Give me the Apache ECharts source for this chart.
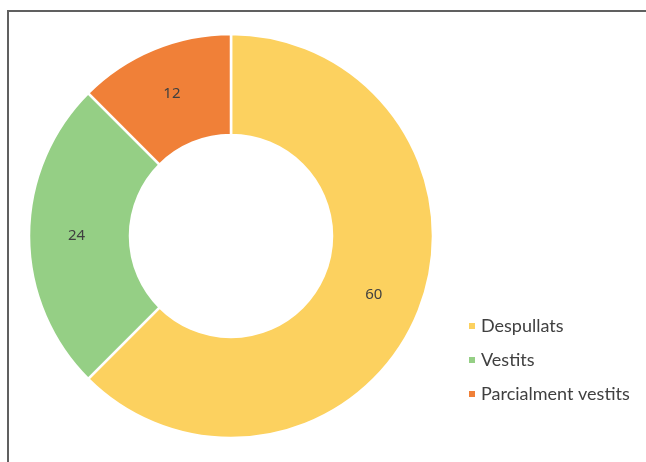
<!DOCTYPE html>
<html style="height: 100%">
<head>
<meta charset="utf-8">
<script src="https://cdn.jsdelivr.net/npm/echarts@6/dist/echarts.min.js"></script>
</head>
<body style="height: 100%; margin: 0; background: #fff">
<div id="container" style="width: 646px; height: 462px"></div>
<script type="text/javascript">
var categories = ['Despullats', 'Vestits', 'Parcialment vestits'];
var values = [60, 24, 12];
var colors = ['#FCD15F', '#95CF85', '#F08038'];

var chart = echarts.init(document.getElementById('container'));

var data = categories.map(function (name, i) {
    return { name: name, value: values[i], itemStyle: { color: colors[i] } };
});

var option = {
    backgroundColor: '#fff',
    animation: false,
    graphic: [{
        type: 'rect',
        shape: { x: 8, y: 11, width: 700, height: 500 },
        style: { fill: 'none', stroke: '#606060', lineWidth: 2 }
    }],
    legend: {
        orient: 'vertical',
        left: 462,
        top: 312,
        icon: 'rect',
        itemWidth: 8,
        itemHeight: 8,
        itemGap: 16,
        textStyle: { fontFamily: 'Lato', fontSize: 18, color: '#404040' },
        data: categories
    },
    series: [{
        type: 'pie',
        center: [231, 236],
        radius: [101, 202],
        startAngle: 90,
        clockwise: true,
        itemStyle: { borderColor: '#fff', borderWidth: 2.5 },
        label: {
            show: true,
            position: 'inside',
            formatter: '{c}',
            fontFamily: 'Noto Sans',
            fontSize: 15,
            color: '#404040'
        },
        labelLine: { show: false },
        emphasis: { disabled: true },
        data: data
    }]
};
chart.setOption(option);
</script>
</body>
</html>
